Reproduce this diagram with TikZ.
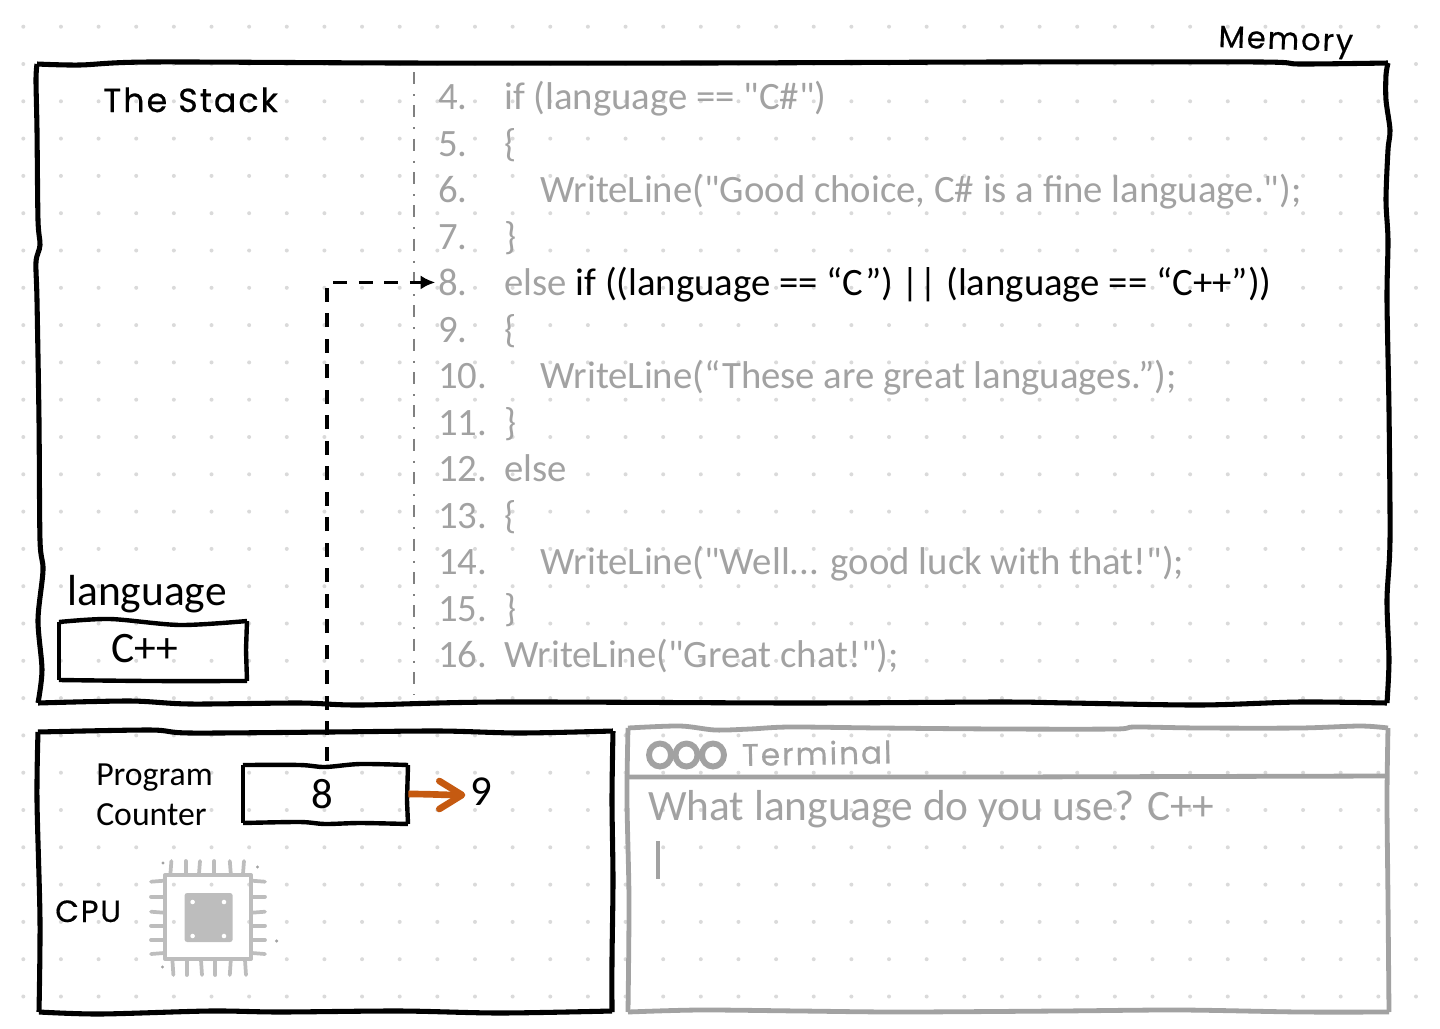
\documentclass[tikz,border=0pt]{standalone}
\usepackage{fontspec}
\setmainfont{Carlito}
\newfontfamily\codefont{Carlito}
\newfontfamily\handfont[LetterSpace=6,FakeBold=0.5]{Poppins}
\usetikzlibrary{arrows.meta}
\definecolor{codegrey}{HTML}{A2A2A2}
\definecolor{dotgrey}{HTML}{DADADA}
\definecolor{chipgrey}{HTML}{BDBDBD}
\definecolor{pcorange}{HTML}{C55A11}
\tikzset{
  wob/.style={line width=3.8pt,line join=miter,black},
  wobgrey/.style={line width=3.6pt,line join=miter,draw=codegrey},
  wobsmall/.style={line width=3.3pt,line join=miter,black},
  code/.style={anchor=base west,inner sep=0pt,font=\codefont\fontsize{29.05pt}{30pt}\selectfont,text=codegrey},
  txt/.style={anchor=base west,inner sep=0pt,text=black},
  hand/.style={anchor=base west,inner sep=0pt,text=black,font=\handfont\fontsize{23pt}{24pt}\selectfont},
  pin/.style={line width=2.8pt,line cap=round,draw=chipgrey},
  hole/.style={fill=white,draw=none},
  strayd/.style={fill=codegrey,draw=none}
}
\begin{document}
\begin{tikzpicture}[x=0.75pt,y=-0.75pt]
\useasboundingbox (0,0) rectangle (1440,1029);
% dotted paper
\foreach \i in {0,...,37}{
  \foreach \j in {0,...,26}{
    \fill[dotgrey] ({23.3+37.64*\i},{26.7+37.3*\j}) circle[radius=1.5pt];
  }
}
% memory box
\draw[wob] plot[smooth,tension=0.5] coordinates {(37,64) (80,65) (150,62) (400,63) (700,63) (1000,62) (1260,62) (1300,64) (1388,63)};
\draw[wob] plot[smooth,tension=0.5] coordinates {(1388,63) (1386,75) (1386,100) (1390,130) (1388,150) (1386,200) (1388,240) (1387,300) (1389,410) (1390,540) (1387,600) (1389,660) (1387,703)};
\draw[wob] plot[smooth,tension=0.5] coordinates {(38,703) (130,701) (190,704) (300,703) (360,705) (500,702) (800,703) (1000,702) (1070,703) (1200,705) (1300,702) (1387,703)};
\draw[wob] plot[smooth,tension=0.5] coordinates {(37,64) (36,80) (37,130) (38,220) (40,245) (36,262) (37,300) (39,420) (40,540) (43,570) (38,620) (42,670) (38,703)};
% cpu box
\draw[wob] plot[smooth,tension=0.5] coordinates {(38,732) (150,730) (190,733) (330,732) (440,731) (520,733) (613,731)};
\draw[wob] plot[smooth,tension=0.5] coordinates {(613,731) (612,800) (613,880) (612,960) (612,1012)};
\draw[wob] plot[smooth,tension=0.5] coordinates {(39,1012) (100,1014) (210,1011) (280,1012) (400,1011) (500,1013) (612,1011)};
\draw[wob] plot[smooth,tension=0.5] coordinates {(38,732) (37,800) (40,920) (39,1012)};
% terminal box
\draw[wobgrey] plot[smooth,tension=0.5] coordinates {(628,728) (680,726) (715,730) (750,729) (790,727) (880,728) (1000,729) (1115,729) (1135,727) (1200,728) (1300,728) (1360,726) (1388,728)};
\draw[wobgrey] plot[smooth,tension=0.5] coordinates {(1388,728) (1387,800) (1388,900) (1389,1012)};
\draw[wobgrey] plot[smooth,tension=0.5] coordinates {(628,1012) (700,1010) (800,1011) (900,1012) (1060,1011) (1180,1010) (1300,1012) (1389,1012)};
\draw[wobgrey] plot[smooth,tension=0.5] coordinates {(628,728) (627,800) (629,900) (628,1012)};
\draw[wobgrey] (628,777) -- (1000,777) -- (1388,776);
\draw[codegrey,line width=4.4pt] (660,755) ellipse[x radius=11,y radius=11.5];
\draw[codegrey,line width=4.4pt] (686.5,755) ellipse[x radius=11,y radius=11.5];
\draw[codegrey,line width=4.4pt] (713,755) ellipse[x radius=11,y radius=11.5];
\node[hand,text=codegrey,font=\handfont\fontsize{23.4pt}{24pt}\selectfont,rotate=1] (termlabel) at (742,766) {Terminal};
\node[code,font=\codefont\fontsize{32.5pt}{33pt}\selectfont] (termq) at (648,820) {What language do you use? C++};
\draw[codegrey,line width=2.4pt] (658,841) -- (658,879);
% stack separator
\draw[gray,line width=2.2pt,dash pattern=on 9pt off 7.5pt on 1.5pt off 7pt] (414,72) -- (414,695);
% stack values
\node[hand,font=\handfont\fontsize{25pt}{26pt}\selectfont] (stacklabel) at (103,112) {The Stack};
\node[hand,rotate=-2] (memlabel) at (1218,47) {Memory};
\node[txt,font=\fontsize{32.6pt}{33pt}\selectfont] (langlabel) at (67,605) {language};
\draw[wobsmall] plot[smooth,tension=0.5] coordinates {(59,622) (110,619) (180,625) (247,621)};
\draw[wobsmall] (247,621) -- (246,650) -- (247,681);
\draw[wobsmall] plot[smooth,tension=0.5] coordinates {(59,680) (150,681) (247,681)};
\draw[wobsmall] (59,622) -- (59,680);
\node[anchor=base,inner sep=0pt,font=\fontsize{32.6pt}{33pt}\selectfont] (langval) at (145,662.5) {C++};
% code lines
\node[code] (n4) at (438,109.5) {4.};
\node[code] (c4) at (504,109.5) {if (language == "C\#")};
\node[code] (n5) at (438,156) {5.};
\node[code] (c5) at (504,156) {\{};
\node[code] (n6) at (438,202.5) {6.};
\node[code] (c6) at (540,202.5) {WriteLine("Good choice, C\# is a fine language.");};
\node[code] (n7) at (438,249) {7.};
\node[code] (c7) at (504,249) {\}};
\node[code] (n8) at (438,295.5) {8.};
\node[code] (c8) at (504,295.5) {else \textcolor{black}{if ((language == “C”) || (language == “C++”))}};
\node[code] (n9) at (438,342) {9.};
\node[code] (c9) at (504,342) {\{};
\node[code] (n10) at (438,388.5) {10.};
\node[code] (c10) at (540,388.5) {WriteLine(“These are great languages.”);};
\node[code] (n11) at (438,435) {11.};
\node[code] (c11) at (504,435) {\}};
\node[code] (n12) at (438,481.5) {12.};
\node[code] (c12) at (504,481.5) {else};
\node[code] (n13) at (438,528) {13.};
\node[code] (c13) at (504,528) {\{};
\node[code] (n14) at (438,574.5) {14.};
\node[code] (c14) at (540,574.5) {WriteLine("Well... good luck with that!");};
\node[code] (n15) at (438,621) {15.};
\node[code] (c15) at (504,621) {\}};
\node[code] (n16) at (438,667.5) {16.};
\node[code] (c16) at (504,667.5) {WriteLine("Great chat!");};
% program counter
\node[txt,font=\fontsize{25.3pt}{26pt}\selectfont] (pclabela) at (96,785) {Program};
\node[txt,font=\fontsize{25.3pt}{26pt}\selectfont] (pclabelb) at (96,825) {Counter};
\node[inner sep=0pt,minimum width=121.5pt,minimum height=49.5pt] (pcbox) at (327,794) {};
\draw[wobsmall] plot[smooth,tension=0.5] coordinates {(243,765) (300,765) (325,767) (360,764) (408,765)};
\draw[wobsmall] (408,765) -- (407,800) -- (408,824);
\draw[wobsmall] plot[smooth,tension=0.5] coordinates {(243,823) (300,822) (325,824) (360,823) (408,824)};
\draw[wobsmall] (243,765) -- (243,823);
\node[anchor=base,inner sep=0pt,font=\fontsize{32pt}{33pt}\selectfont] (val8) at (322,808) {8};
\node[txt,font=\fontsize{32pt}{33pt}\selectfont] (nine) at (470,805.5) {9};
\draw[pcorange,line width=5pt,-{Straight Barb[length=17pt,width=21pt,round]}] (pcbox.east) to[out=0,in=180] ([shift={(-3.5pt,-2.5pt)}]nine.west);
% dashed connector
\draw[black,line width=2.7pt,dash pattern=on 10.5pt off 8.63pt,shorten >=2pt,-{Latex[length=11pt,width=10.5pt]}] (pcbox.north) |- (n8.west);
% cpu chip
\node[hand] (cpulabel) at (55,922) {CPU};
\draw[chipgrey,line width=3pt,line join=round] (165,875) rectangle (251,959);
\fill[chipgrey,rounded corners=2pt] (184.5,893) rectangle (232.7,942);
\foreach \hx/\hy in {192.6/902,224/902,192.6/936,224/936}{
  \fill[hole] (\hx,\hy) circle[radius=1.7pt];
}
\foreach \px/\dx in {171.4/1,185.7/0,200/1,214.3/0,229.8/-1,244/1}{
  \draw[pin] (\px,861) -- (\px-\dx,874);
  \draw[pin] (\px+1,960) -- (\px+1+\dx,975);
}
\foreach \py/\dy in {881.7/-1,896.7/0,911.7/1,925.7/0,940/0,954/-1}{
  \draw[pin] (151,\py) -- (164,\py+\dy);
  \draw[pin] (252,\py+\dy) -- (265,\py);
}
\foreach \sx/\sy in {163/863,257.5/867,276.7/941,162.5/967}{
  \fill[strayd] (\sx,\sy) circle[radius=1.3pt];
}
\end{tikzpicture}
\end{document}
